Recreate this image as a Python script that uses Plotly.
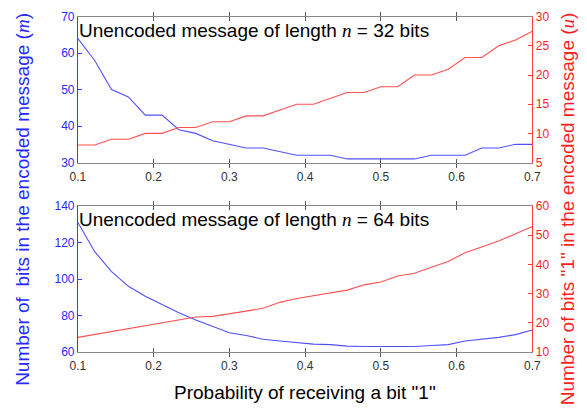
import plotly.graph_objects as go
from plotly.subplots import make_subplots

# ---- data ----
prob = [round(0.1 + i * 0.6 / 27, 4) for i in range(28)]

m_32 = [64, 58, 50, 48, 43, 43, 39, 38, 36, 35, 34, 34, 33, 32, 32, 32,
        31, 31, 31, 31, 31, 32, 32, 32, 34, 34, 35, 35]
u_32 = [8, 8, 9, 9, 10, 10, 11, 11, 12, 12, 13, 13, 14, 15, 15, 16,
        17, 17, 18, 18, 20, 20, 21, 23, 23, 25, 26, 27.5]

m_64 = [131, 115, 104, 96, 90.5, 86, 81.5, 77.5, 74, 70.5, 69, 67, 66, 65,
        64.3, 64, 63.2, 63, 63, 63, 63, 63.5, 64, 66, 67, 68, 69.5, 72]
u_64 = [15, 16, 17, 18, 19, 20, 21, 22, 22.2, 23, 24, 25, 27, 28.3, 29.3,
        30.2, 31.2, 33, 34, 36, 37, 39, 41, 44, 46, 48, 50.5, 53]

x_ticks = [0.1, 0.2, 0.3, 0.4, 0.5, 0.6, 0.7]
x_tick_labels = ["0.1", "0.2", "0.3", "0.4", "0.5", "0.6", "0.7"]

panel_labels = ["Unencoded message of length <span style='font-family:Liberation Serif'><i>n</i></span> = 32 bits",
                "Unencoded message of length <span style='font-family:Liberation Serif'><i>n</i></span> = 64 bits"]

left_title = "Number of  bits in the encoded message (<span style='font-family:Liberation Serif'><i>m</i></span>)"
right_title = "Number of bits \"1\" in the encoded message (<span style='font-family:Liberation Serif'><i>u</i></span>)"
x_title = "Probability of receiving a bit \"1\""

# ---- style ----
W, H = 587, 415
BLUE_LINE = "rgb(80,80,255)"
RED_LINE = "rgb(255,80,80)"
BLUE_TXT = "rgb(40,40,255)"
RED_TXT = "rgb(255,30,30)"
FONT = "Liberation Sans, Arial, sans-serif"

fig = make_subplots(rows=2, cols=1, specs=[[{"secondary_y": True}], [{"secondary_y": True}]])

fig.add_trace(go.Scatter(x=prob, y=m_32, mode="lines", line=dict(color=BLUE_LINE, width=1.1),
                         showlegend=False), row=1, col=1, secondary_y=False)
fig.add_trace(go.Scatter(x=prob, y=u_32, mode="lines", line=dict(color=RED_LINE, width=1.1),
                         showlegend=False), row=1, col=1, secondary_y=True)
fig.add_trace(go.Scatter(x=prob, y=m_64, mode="lines", line=dict(color=BLUE_LINE, width=1.1),
                         showlegend=False), row=2, col=1, secondary_y=False)
fig.add_trace(go.Scatter(x=prob, y=u_64, mode="lines", line=dict(color=RED_LINE, width=1.1),
                         showlegend=False), row=2, col=1, secondary_y=True)

xd = [72 / W, 540 / W]
top_dom = [1 - 161 / H, 1 - 10 / H]
bot_dom = [1 - 357 / H, 1 - 206 / H]

xcommon = dict(range=[0.1, 0.7], tickvals=x_ticks, ticktext=x_tick_labels, ticks="inside",
               ticklen=4, tickcolor="#555", showline=True, linecolor="#888", linewidth=1,
               mirror="allticks", showgrid=False, zeroline=False, ticklabelstandoff=3,
               tickfont=dict(family=FONT, size=12, color="#333"), domain=xd)

def ycommon(rng, dt, col, txt):
    return dict(range=rng, dtick=dt, ticks="inside", ticklen=4, tickcolor=col,
                showline=True, linecolor=col, linewidth=1, showgrid=False, zeroline=False,
                tickfont=dict(family=FONT, size=12, color=txt))

fig.update_layout(
    width=W, height=H, margin=dict(l=0, r=0, t=0, b=0),
    paper_bgcolor="white", plot_bgcolor="white",
    font=dict(family=FONT),
    xaxis=dict(**xcommon, anchor="y"),
    xaxis2=dict(**xcommon, anchor="y3"),
    yaxis=dict(**ycommon([30, 70], 10, "rgb(60,60,255)", BLUE_TXT), domain=top_dom),
    yaxis2=dict(**ycommon([5, 30], 5, "rgb(255,60,60)", RED_TXT), domain=top_dom),
    yaxis3=dict(**ycommon([60, 140], 20, "rgb(60,60,255)", BLUE_TXT), domain=bot_dom),
    yaxis4=dict(**ycommon([10, 60], 10, "rgb(255,60,60)", RED_TXT), domain=bot_dom),
)

anns = []
for lab, xref, yref, yc in [(panel_labels[0], "x domain", "y domain", (161 - 24) / 151),
                            (panel_labels[1], "x2 domain", "y3 domain", (357 - 219.5) / 151)]:
    anns.append(dict(text=lab, xref=xref, yref=yref,
                     x=-0.003, y=yc, xanchor="left", yanchor="middle", showarrow=False,
                     font=dict(family=FONT, size=19, color="black")))
anns.append(dict(text=left_title, xref="paper", yref="paper", x=15 / W, y=1 - 199 / H,
                 textangle=-90, showarrow=False, xanchor="center", yanchor="middle",
                 font=dict(family=FONT, size=19, color=BLUE_TXT)))
anns.append(dict(text=right_title, xref="paper", yref="paper", x=577 / W, y=1 - 209 / H,
                 textangle=-90, showarrow=False, xanchor="center", yanchor="middle",
                 font=dict(family=FONT, size=19, color=RED_TXT)))
anns.append(dict(text=x_title, xref="paper", yref="paper", x=306 / W, y=1 - 399 / H,
                 showarrow=False, xanchor="center", yanchor="middle",
                 font=dict(family=FONT, size=19, color="black")))
fig.update_layout(annotations=anns)

fig.write_html("out.html")
